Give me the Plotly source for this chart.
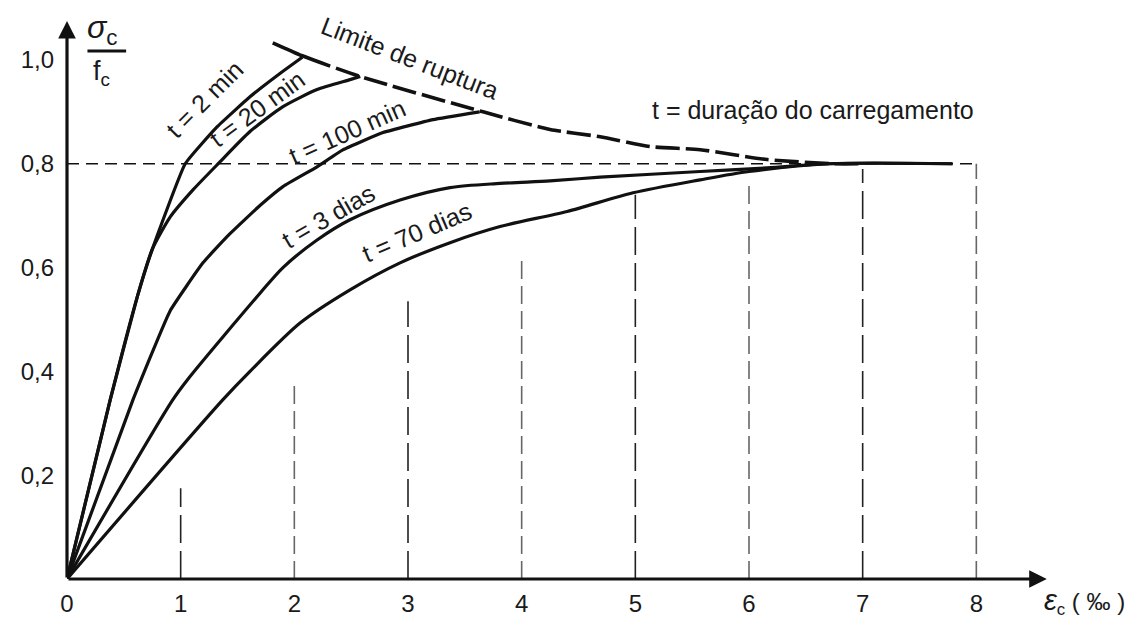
import plotly.graph_objects as go

# ---------------- data ----------------
x_ticks = [0, 1, 2, 3, 4, 5, 6, 7, 8]
x_tick_text = ["0", "1", "2", "3", "4", "5", "6", "7", "8"]
y_ticks = [0.2, 0.4, 0.6, 0.8, 1.0]
y_tick_text = ["0,2", "0,4", "0,6", "0,8", "1,0"]

t2min_x = [0, 0.38, 0.62, 0.75, 1.04, 1.32, 1.61, 1.85, 2.07]
t2min_y = [0, 0.345, 0.545, 0.635, 0.80, 0.871, 0.929, 0.97, 1.005]

t20min_x = [0, 0.38, 0.62, 0.75, 0.91, 1.11, 1.33, 1.61, 1.90, 2.20, 2.49, 2.58]
t20min_y = [0, 0.345, 0.545, 0.635, 0.698, 0.75, 0.80, 0.862, 0.91, 0.943, 0.962, 0.968]

t100min_x = [0, 0.58, 0.906, 1.196, 1.41, 1.70, 1.90, 2.20, 2.43, 2.78, 3.22, 3.63]
t100min_y = [0, 0.345, 0.516, 0.609, 0.66, 0.72, 0.756, 0.794, 0.827, 0.86, 0.885, 0.90]

t3d_x = [0, 0.93, 1.06, 1.70, 1.90, 2.20, 2.49, 2.93, 3.37, 3.81, 4.25, 4.69, 5.57, 6.16, 6.7, 7.79]
t3d_y = [0, 0.345, 0.384, 0.551, 0.60, 0.653, 0.692, 0.73, 0.754, 0.762, 0.767, 0.774, 0.785, 0.792, 0.80, 0.80]

t70d_x = [0, 1.37, 1.61, 2.05, 2.49, 2.93, 3.37, 3.81, 4.40, 4.98, 5.57, 6.0, 6.7, 7.79]
t70d_y = [0, 0.345, 0.40, 0.493, 0.557, 0.609, 0.648, 0.679, 0.708, 0.744, 0.769, 0.785, 0.80, 0.80]

rupture_x = [1.81, 2.07, 2.58, 3.66, 4.25, 4.69, 5.13, 5.57, 6.16, 6.74, 7.0]
rupture_y = [1.033, 1.008, 0.968, 0.90, 0.866, 0.852, 0.833, 0.827, 0.808, 0.80, 0.80]

ref_level = 0.8
ref_end_x = 8
vline_x = [1, 2, 3, 4, 5, 6, 7, 8]
vline_top = [0.175, 0.38, 0.535, 0.625, 0.74, 0.77, 0.79, 0.80]

curve_labels = ["t = 2 min", "t = 20 min", "t = 100 min", "t = 3 dias", "t = 70 dias",
                "Limite de ruptura", "t = duração do carregamento"]

# ---------------- styling / positions ----------------
label_pos_x = [1.21, 1.67, 2.46, 2.30, 3.08, 3.02, 6.56]
label_pos_y = [0.925, 0.905, 0.861, 0.700, 0.668, 1.003, 0.904]
label_angle = [-45, -36, -24, -30, -23, 21, 0]

FONT = "Liberation Sans, Arial, sans-serif"
INK = "#111111"
TXT = "#1a1a1a"

fig = go.Figure()

series = [(t2min_x, t2min_y, 0.35), (t20min_x, t20min_y, 0.6), (t100min_x, t100min_y, 0.35),
          (t3d_x, t3d_y, 0.8), (t70d_x, t70d_y, 0.8)]
for xs, ys, sm in series:
    fig.add_trace(go.Scatter(x=xs, y=ys, mode="lines",
                             line=dict(color=INK, width=3.2, shape="spline", smoothing=sm),
                             showlegend=False, hoverinfo="skip"))

rupture_dash = ",".join(["62px", "6px"] + ["24px", "6px"] * 20)
fig.add_trace(go.Scatter(x=rupture_x, y=rupture_y, mode="lines",
                         line=dict(color=INK, width=3.6, dash=rupture_dash,
                                   shape="spline", smoothing=0.6),
                         showlegend=False, hoverinfo="skip"))

shapes = []
shapes.append(dict(type="line", xref="x", yref="y", x0=0, x1=ref_end_x,
                   y0=ref_level, y1=ref_level,
                   line=dict(color=INK, width=1.5, dash="12px,7px"), layer="below"))
for xv, yt in zip(vline_x, vline_top):
    col = "#222222" if xv % 2 == 1 else "#666666"
    dash = "28px,8px" if xv % 2 == 1 else "18px,7px"
    shapes.append(dict(type="line", xref="x", yref="y", x0=xv, x1=xv, y0=0, y1=yt,
                       line=dict(color=col, width=1.6, dash=dash), layer="below"))
shapes.append(dict(type="line", xref="x", yref="y", x0=0.18, x1=0.52, y0=1.017, y1=1.017,
                   line=dict(color=INK, width=3)))

annotations = []
annotations.append(dict(x=8.62, y=0, ax=0, ay=0, xref="x", yref="y", axref="x", ayref="y",
                        showarrow=True, arrowhead=2, arrowsize=1.1, arrowwidth=3.2,
                        arrowcolor=INK, text="", standoff=0, startstandoff=0))
annotations.append(dict(x=0, y=1.075, ax=0, ay=0, xref="x", yref="y", axref="x", ayref="y",
                        showarrow=True, arrowhead=2, arrowsize=1.1, arrowwidth=3.2,
                        arrowcolor=INK, text="", standoff=0, startstandoff=0))

for txt, lx, ly, ang in zip(curve_labels, label_pos_x, label_pos_y, label_angle):
    annotations.append(dict(x=lx, y=ly, xref="x", yref="y", text=txt, showarrow=False,
                            textangle=ang, font=dict(family=FONT, size=25, color=TXT)))

annotations.append(dict(x=0.31, y=1.058, xref="x", yref="y", showarrow=False,
                        text="<i>σ</i><sub>c</sub>",
                        font=dict(family=FONT, size=32, color=TXT)))
annotations.append(dict(x=0.30, y=0.975, xref="x", yref="y", showarrow=False,
                        text="f<sub>c</sub>",
                        font=dict(family=FONT, size=27, color=TXT)))
annotations.append(dict(x=1.036, y=-0.04, xref="paper", yref="paper", xanchor="right",
                        yanchor="middle", showarrow=False,
                        text="<span style='font-size:29px'><i>ε</i></span><sub>c</sub> ( ‰ )",
                        font=dict(family=FONT, size=24, color=TXT)))

# The page body has an 8px default margin; the figure is sized to fit inside the window.
fig.update_layout(
    template="none",
    width=1131, height=613,
    margin=dict(l=59, r=49, t=0, b=42, autoexpand=False),
    paper_bgcolor="white", plot_bgcolor="white",
    shapes=shapes, annotations=annotations,
    showlegend=False,
    xaxis=dict(range=[0, 9], showgrid=False, zeroline=False, showline=False, automargin=False,
               tickmode="array", tickvals=x_ticks, ticktext=x_tick_text, ticks="",
               ticklabelstandoff=8,
               tickfont=dict(family=FONT, size=24, color=TXT)),
    yaxis=dict(range=[0, 1.1], showgrid=False, zeroline=False, showline=False, automargin=False,
               tickmode="array", tickvals=y_ticks, ticktext=y_tick_text, ticks="",
               ticklabelstandoff=12,
               tickfont=dict(family=FONT, size=24, color=TXT)),
)

fig.write_html("out.html")
